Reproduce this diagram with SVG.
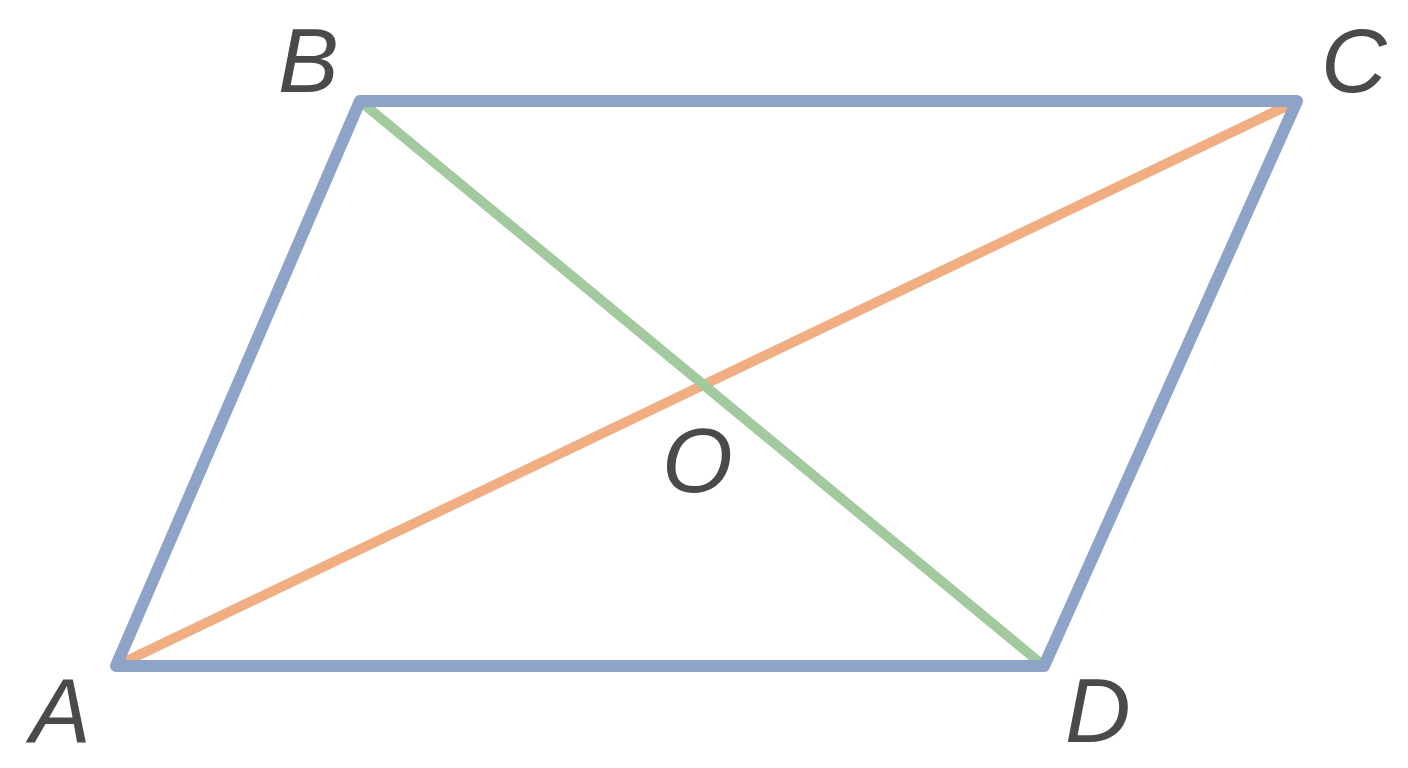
<svg xmlns="http://www.w3.org/2000/svg" width="1408" height="768" viewBox="0 0 1408 768">
<style>
.lbl{font-family:"Liberation Sans",Arial,sans-serif;font-style:italic;font-size:91px;fill:#4a4a4a}
.edge{fill:none;stroke-linecap:round;stroke-linejoin:round}
</style>
<rect width="1408" height="768" fill="#ffffff"/>
<g id="connectors">
<line class="edge" x1="116" y1="666" x2="1297" y2="101" stroke="#F0AE82" stroke-width="10"/>
<line class="edge" x1="360" y1="101" x2="1044" y2="666" stroke="#A3C99E" stroke-width="10"/>
<polygon class="edge" points="116,666 360,101 1297,101 1044,666" stroke="#8DA3C8" stroke-width="12"/>
</g>
<g id="A"><text class="lbl" x="30" y="742">A</text></g>
<g id="B"><text class="lbl" x="278" y="92">B</text></g>
<g id="C"><text class="lbl" x="1321" y="92">C</text></g>
<g id="D"><text class="lbl" x="1065" y="742">D</text></g>
<g id="O"><text class="lbl" x="662" y="492">O</text></g>
</svg>
